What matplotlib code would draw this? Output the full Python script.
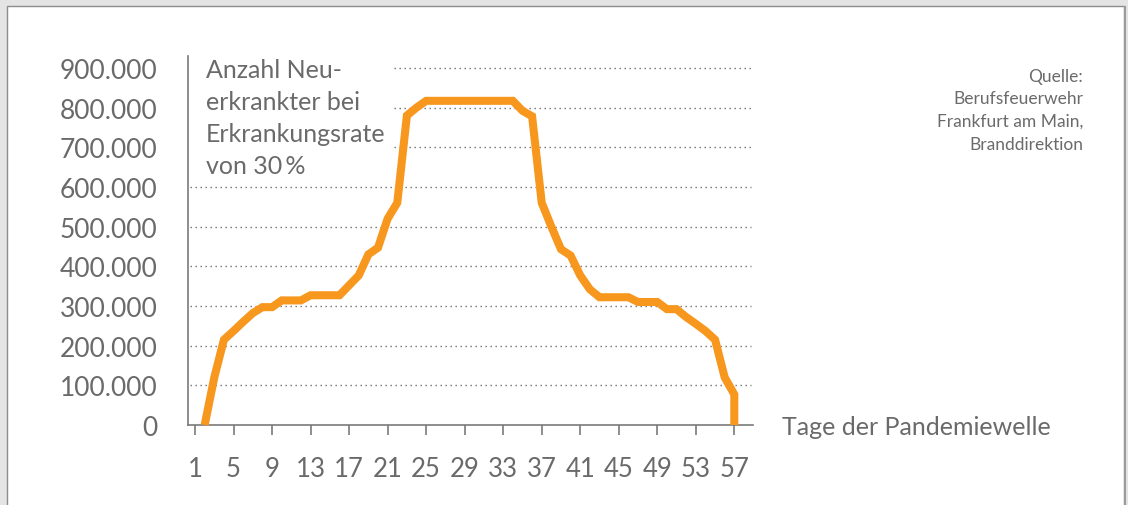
import matplotlib
matplotlib.use('Agg')
import matplotlib.pyplot as plt
from matplotlib.patches import Rectangle
from matplotlib.lines import Line2D

# Neuerkrankte pro Tag, letzter Tag faellt senkrecht auf 0
days = list(range(2, 58)) + [57]
cases = [0, 120000, 215000, 237000, 260000, 282000, 297000, 297000, 314000, 314000,
         314000, 327000, 327000, 327000, 327000, 352000, 377000, 430000, 447000, 520000,
         560000, 780000, 800000, 817000, 817000, 817000, 817000, 817000, 817000, 817000,
         817000, 817000, 817000, 792000, 778000, 560000, 500000, 443000, 427000, 377000,
         342000, 322000, 322000, 322000, 322000, 310000, 310000, 310000, 292000, 292000,
         272000, 255000, 237000, 215000, 120000, 77000, 0]
xtick_days = list(range(1, 58, 4))
ytick_vals = [0, 100000, 200000, 300000, 400000, 500000, 600000, 700000, 800000, 900000]
ytick_labels = ['0', '100.000', '200.000', '300.000', '400.000', '500.000',
                '600.000', '700.000', '800.000', '900.000']

W, H = 1128, 506
grey = '#6a6a6a'
orange = '#F7971E'
plt.rcParams['font.family'] = ['Lato', 'DejaVu Sans']

fig = plt.figure(figsize=(W/100, H/100), dpi=100)
fig.patch.set_facecolor('#e4e4e4')
fig.patches.append(Rectangle((7/W, -0.05), (1124-7)/W, 1.05-7/H, transform=fig.transFigure,
                             facecolor='white', edgecolor='#8c8c8c', lw=1, zorder=-10))
fig.lines.append(Line2D([1125/W, 1125/W], [0, 1-8/H], transform=fig.transFigure,
                        color='#9a9a9a', lw=1.5, zorder=-9))

ax = fig.add_axes([188/W, 80/H, 565/W, 369/H])
ax.set_facecolor('none')
ax.set_xlim(0.27, 58.94)
ax.set_ylim(0, 930000)

# gepunktete Hilfslinien, oben kuerzer wegen Beschriftung
for v in ytick_vals[1:]:
    xmin = 0.004
    if v >= 700000:
        xmin = 0.365
    ax.axhline(v, xmin=xmin, xmax=0.996, color='#707070', lw=1,
               linestyle=(0, (1, 2.6)), zorder=1)

ax.plot(days, cases, color=orange, lw=5.8, solid_joinstyle='miter',
        solid_capstyle='butt', zorder=3, clip_on=False)

for s in ['top', 'right']:
    ax.spines[s].set_visible(False)
for s in ['left', 'bottom']:
    ax.spines[s].set_color('#7a7a7a')
    ax.spines[s].set_linewidth(1.2)

ax.set_xticks(xtick_days)
ax.set_xticklabels([str(d) for d in xtick_days])
ax.set_yticks(ytick_vals)
ax.set_yticklabels(ytick_labels)
ax.tick_params(axis='x', direction='out', length=7, width=1.2, color='#7a7a7a',
               labelsize=18.5, labelcolor=grey, pad=15)
ax.tick_params(axis='y', length=0, labelsize=19, labelcolor=grey, pad=22)

fig.text(206/W, 1-59/H, 'Anzahl Neu-\nerkrankter bei\nErkrankungsrate\nvon 30\u2009%',
         fontsize=18, color=grey, va='top', ha='left', linespacing=1.48)
fig.text(782/W, 1-428/H, 'Tage der Pandemiewelle', fontsize=18, color=grey,
         va='center', ha='left')
fig.text(1083/W, 1-69/H, 'Quelle:\nBerufsfeuerwehr\nFrankfurt am Main,\nBranddirektion',
         fontsize=12.5, color=grey, va='top', ha='right', multialignment='right',
         linespacing=1.5)

fig.savefig('out.png', dpi=100, facecolor=fig.get_facecolor())
